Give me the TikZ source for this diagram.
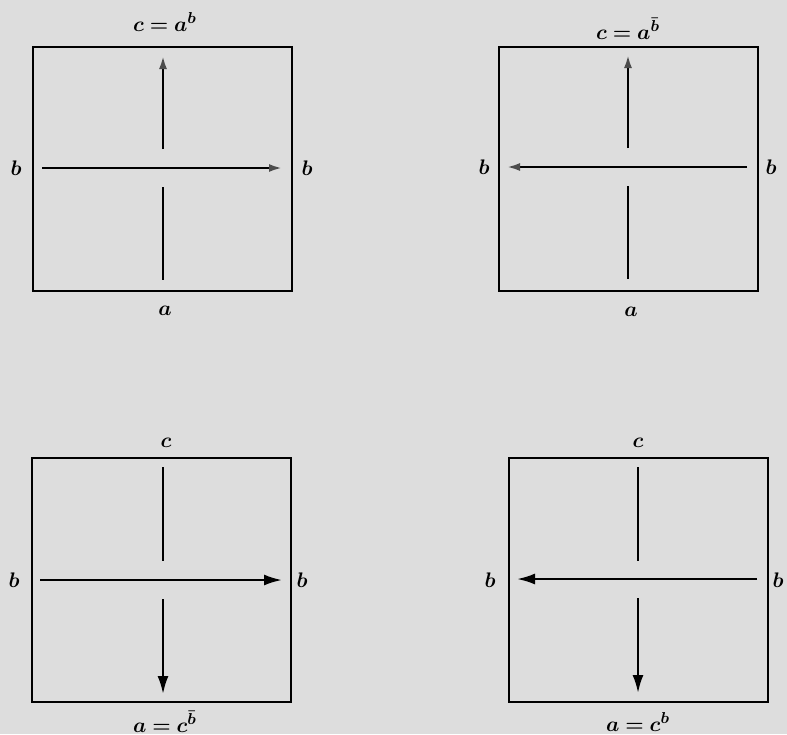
\documentclass[tikz,border=0pt]{standalone}
\usepackage{amsmath,amssymb,bm}
\usepackage{tikz}
\usetikzlibrary{positioning,arrows.meta}
\definecolor{paper}{RGB}{221,221,221}

\begin{document}
\begin{tikzpicture}[x=0.02cm,y=-0.02cm,
  lbl/.style={font=\fontsize{12.5}{14}\selectfont,inner sep=0pt},
  sq/.style={draw,line width=1.4pt,minimum width=5.18cm,minimum height=4.88cm,inner sep=0pt},
  ln/.style={line width=1.3pt},
  tipA/.style={-{Latex[length=3.6mm,width=2.2mm]}},
  tipF/.style={-{Latex[length=2.6mm,width=1.6mm,color=gray!60!black]}}]
\fill[paper] (0,0) rectangle (787,734);
\useasboundingbox (0,0) rectangle (787,734);
% top left panel
\begin{scope}[shift={(32,46)}]
\node[sq,anchor=north west] (tl) at (0,0) {};
\coordinate (tlU) at (131,10); \coordinate (tlM1) at (131,103);
\coordinate (tlM2) at (131,141); \coordinate (tlD) at (131,234);
\coordinate (tlL) at (10,122); \coordinate (tlR) at (250,122);
\draw[ln,tipF] (tlM1) -- (tlU);
\draw[ln] (tlM2) -- (tlD);
\draw[ln,tipF] (tlL) -- (tlR);
\node[lbl] (tlc) at (133,-24) {$\bm{c=a^{b}}$};
\node[lbl] (tlbl) at (-16,122) {$\bm{b}$};
\node[lbl] (tlbr) at (275,122) {$\bm{b}$};
\node[lbl] (tla) at (133,265) {$\bm{a}$};
\end{scope}
% top right panel
\begin{scope}[shift={(498,46)}]
\node[sq,anchor=north west] (tr) at (0,0) {};
\coordinate (trU) at (130,9); \coordinate (trM1) at (130,102);
\coordinate (trM2) at (130,140); \coordinate (trD) at (130,233);
\coordinate (trL) at (9,121); \coordinate (trR) at (249,121);
\draw[ln,tipF] (trM1) -- (trU);
\draw[ln] (trM2) -- (trD);
\draw[ln,tipF] (trR) -- (trL);
\node[lbl] (trc) at (130,-17) {$\bm{c=a^{\bar{b}}}$};
\node[lbl] (trbl) at (-14,121) {$\bm{b}$};
\node[lbl] (trbr) at (273,121) {$\bm{b}$};
\node[lbl] (tra) at (133,266) {$\bm{a}$};
\end{scope}
% bottom left panel
\begin{scope}[shift={(31,457)}]
\node[sq,anchor=north west] (bl) at (0,0) {};
\coordinate (blU) at (132,10); \coordinate (blM1) at (132,104);
\coordinate (blM2) at (132,142); \coordinate (blD) at (132,237);
\coordinate (blL) at (9,123); \coordinate (blR) at (251,123);
\draw[ln] (blU) -- (blM1);
\draw[ln,tipA] (blM2) -- (blD);
\draw[ln,tipA] (blL) -- (blR);
\node[lbl] (blc) at (135,-14) {$\bm{c}$};
\node[lbl] (blbl) at (-17,123) {$\bm{b}$};
\node[lbl] (blbr) at (271,123) {$\bm{b}$};
\node[lbl] (bla) at (134,265) {$\bm{a=c^{\bar{b}}}$};
\end{scope}
% bottom right panel
\begin{scope}[shift={(508,457)}]
\node[sq,anchor=north west] (br) at (0,0) {};
\coordinate (brU) at (130,10); \coordinate (brM1) at (130,104);
\coordinate (brM2) at (130,141); \coordinate (brD) at (130,236);
\coordinate (brL) at (9,122); \coordinate (brR) at (249,122);
\draw[ln] (brU) -- (brM1);
\draw[ln,tipA] (brM2) -- (brD);
\draw[ln,tipA] (brR) -- (brL);
\node[lbl] (brc) at (130,-14) {$\bm{c}$};
\node[lbl] (brbl) at (-18,123) {$\bm{b}$};
\node[lbl] (brbr) at (270,123) {$\bm{b}$};
\node[lbl] (bra) at (130,265) {$\bm{a=c^{b}}$};
\end{scope}
\end{tikzpicture}
\end{document}
